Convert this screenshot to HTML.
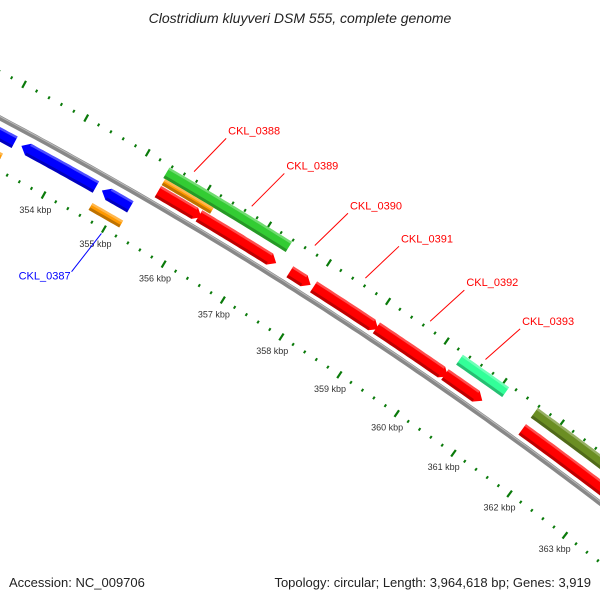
<!DOCTYPE html>
<html><head><meta charset="utf-8"><style>
html,body{margin:0;padding:0;background:#fff;overflow:hidden;}
svg{display:block;font-family:"Liberation Sans",sans-serif;}
</style></head><body>
<svg id="map" width="600" height="600" viewBox="0 0 600 600" xmlns="http://www.w3.org/2000/svg">
<rect width="600" height="600" fill="#fff"/>
<text x="300" y="23" text-anchor="middle" font-size="14" font-style="italic" fill="#222">Clostridium kluyveri DSM 555, complete genome</text>
<g id="rulers"></g><g id="backbone"></g><g id="features"></g><g id="labels"></g>
<text x="9" y="587" font-size="13" fill="#222">Accession: NC_009706</text>
<text x="591" y="587" text-anchor="end" font-size="13" fill="#222">Topology: circular; Length: 3,964,618 bp; Genes: 3,919</text>
</svg>
<script>
// data (kbp)
const tickKbp = [354,355,356,357,358,359,360,361,362,363];
const tickLabels = ["354 kbp","355 kbp","356 kbp","357 kbp","358 kbp","359 kbp","360 kbp","361 kbp","362 kbp","363 kbp"];
const featStart = [355.40,356.08,357.60,358.00,359.07,360.25,361.60,355.37,355.40,360.30,361.60,351.5,351.5,353.38,354.70,354.67];
const featEnd   = [356.12,357.37,357.95,359.10,360.30,360.90,364.5,357.40,356.20,361.10,364.5,353.27,353.20,354.60,355.17,355.18];
const featDir   = [1,1,1,1,1,1,1,0,0,0,0,0,0,-1,-1,0];
const featTrack = ["r","r","r","r","r","r","r","g","o","g","g","b","io","b","b","io"];
const featColor = ["#ff0000","#ff0000","#ff0000","#ff0000","#ff0000","#ff0000","#ff0000","#33cc33","#ff9900","#33ff99","#6b8e23","#0000ff","#ff9900","#0000ff","#0000ff","#ff9900"];
const geneNames = ["CKL_0387","CKL_0388","CKL_0389","CKL_0390","CKL_0391","CKL_0392","CKL_0393"];
const geneKbp   = [355.00,355.70,356.65,357.70,358.55,359.65,360.60];
const geneColor = ["#0000ff","#ff0000","#ff0000","#ff0000","#ff0000","#ff0000","#ff0000"];
const geneSide  = [-1,1,1,1,1,1,1];

const NS="http://www.w3.org/2000/svg";
const P1=[0,118],P2=[300,293],P3=[600,503];
function circ(a,b,c){const d=2*(a[0]*(b[1]-c[1])+b[0]*(c[1]-a[1])+c[0]*(a[1]-b[1]));
const ux=((a[0]**2+a[1]**2)*(b[1]-c[1])+(b[0]**2+b[1]**2)*(c[1]-a[1])+(c[0]**2+c[1]**2)*(a[1]-b[1]))/d;
const uy=((a[0]**2+a[1]**2)*(c[0]-b[0])+(b[0]**2+b[1]**2)*(a[0]-c[0])+(c[0]**2+c[1]**2)*(b[0]-a[0]))/d;return [ux,uy];}
const C=circ(P1,P2,P3);const R=Math.hypot(P1[0]-C[0],P1[1]-C[1]);
const a0=Math.atan2(198-C[1],42-C[0]);
const pxPerKbp=70;
function ang(k){return a0+(k-354)*pxPerKbp/R;}
function pt(k,d){const a=ang(k);return [C[0]+(R+d)*Math.cos(a),C[1]+(R+d)*Math.sin(a)];}
function el(t,at,parent){const e=document.createElementNS(NS,t);for(const k in at)e.setAttribute(k,at[k]);parent.appendChild(e);return e;}
const gR=document.getElementById('rulers'),gB=document.getElementById('backbone'),gF=document.getElementById('features'),gL=document.getElementById('labels');

let bp=[];for(let k=351;k<=365;k+=0.1){bp.push(pt(k,0).map(v=>v.toFixed(1)).join(','));}
const bb=el('polyline',{points:bp.join(' '),fill:'none',stroke:'#888',"stroke-width":5},gB);


const bb2=el('polyline',{points:bp.join(' '),fill:'none',stroke:'#bbb',"stroke-width":1,transform:'translate(0.5,-1.3)'},gB);



const rulerD=[41,-47];
for(const d of rulerD){
 for(let i=351*5;i<=365*5;i++){
  const k=i/5;const major=(i%5===0);
  const len=major?8:3;
  const p1=pt(k,d-len/2),p2=pt(k,d+len/2);
  const t=el('line',{x1:p1[0],y1:p1[1],x2:p2[0],y2:p2[1],stroke:'#0a7a0a',"stroke-width":major?2.2:2},gR);
  
  
 }
}
tickKbp.forEach((k,i)=>{
 const p=pt(k,-64);
 const t=el('text',{x:p[0],y:p[1]+3,"text-anchor":"middle","font-size":9,fill:'#333'},gL);
 t.textContent=tickLabels[i];
 
 
});

const trackD={r:[6,19],g:[27,39],o:[20,27],b:[-21,-8],io:[-38,-30]};
function arcPts(k1,k2,d){const out=[];const n=Math.max(2,Math.ceil((k2-k1)*20));for(let i=0;i<=n;i++){out.push(pt(k1+(k2-k1)*i/n,d));}return out;}
featStart.forEach((s,i)=>{
 const e=featEnd[i],[dIn,dOut]=trackD[featTrack[i]],dir=featDir[i];
 const head=0.11,dm=(dIn+dOut)/2;
 let pts=[];
 if(dir===1){pts=arcPts(s,e-head,dOut).concat([pt(e,dm)],arcPts(s,e-head,dIn).reverse());}
 else if(dir===-1){pts=[pt(s,dm)].concat(arcPts(s+head,e,dOut),arcPts(s+head,e,dIn).reverse());}
 else{pts=arcPts(s,e,dOut).concat(arcPts(s,e,dIn).reverse());}
 const g=el('g',{},gF);
 
 
 el('polygon',{points:pts.map(p=>p.map(v=>v.toFixed(1)).join(',')).join(' '),fill:featColor[i]},g);
 const lo=arcPts(s+(dir===-1?head:0),e-(dir===1?head:0),dIn+1.5);
 el('polyline',{points:lo.map(p=>p.join(',')).join(' '),fill:'none',stroke:'#000',"stroke-opacity":0.25,"stroke-width":3},g);
 const hi=arcPts(s+(dir===-1?head:0),e-(dir===1?head:0),dOut-1.2);
 el('polyline',{points:hi.map(p=>p.join(',')).join(' '),fill:'none',stroke:'#fff',"stroke-opacity":0.3,"stroke-width":2.4},g);
});

geneNames.forEach((n,i)=>{
 const k=geneKbp[i],side=geneSide[i];
 let p1,p2,tx,ty,anchor;
 if(side>0){p1=pt(k,48);p2=pt(k+0.15,93);tx=p2[0]+2;ty=p2[1]-4;anchor='start';}
 else{p1=pt(k,-52);p2=pt(k-0.1,-100);tx=p2[0]-1;ty=p2[1]+8;anchor='end';}
 const l=el('line',{x1:p1[0],y1:p1[1],x2:p2[0],y2:p2[1],stroke:geneColor[i],"stroke-width":1},gL);
 
 
 const t=el('text',{x:tx,y:ty,"text-anchor":anchor,"font-size":11,fill:geneColor[i]},gL);
 t.textContent=n;
 
 
});
</script>
</body></html>
